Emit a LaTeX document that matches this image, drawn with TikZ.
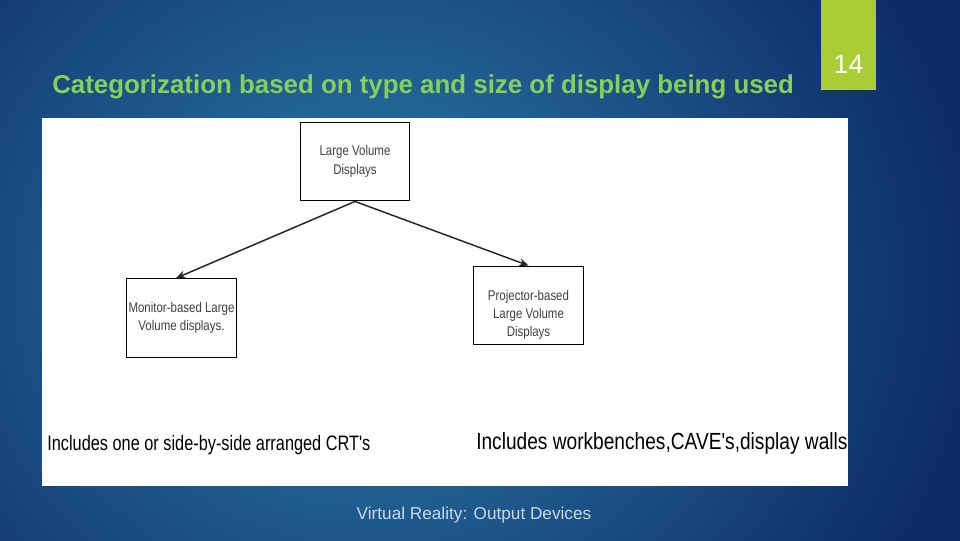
\documentclass[tikz,border=0pt]{standalone}
\usepackage{fontspec}
\setmainfont{Liberation Sans}
\newfontfamily\narrowfont[FakeStretch=0.82]{Liberation Sans}
\newfontfamily\crtfont[FakeStretch=0.78]{Liberation Sans}
\usetikzlibrary{arrows.meta}
\definecolor{bgdark}{HTML}{0C2A64}
\definecolor{bglight}{HTML}{2C7DAC}
\definecolor{titlegreen}{HTML}{86CF5C}
\definecolor{tabgreen}{HTML}{A9CD35}
\definecolor{footgrey}{HTML}{CCD8E4}
\tikzset{
  box/.style={draw=black, line width=0.9pt, fill=white, minimum width=82pt, minimum height=59pt, inner sep=0pt, align=center, font=\narrowfont\fontsize{10.5}{14}\selectfont, text=black!75},
  conn/.style={-{Stealth[length=7pt,width=6pt]}, line width=1.1pt, black!85},
  bottomtext/.style={anchor=west, inner sep=0pt}
}
\begin{document}
\begin{tikzpicture}[x=0.75pt,y=-0.75pt]
% background
\begin{scope}
\clip (-4,-4) rectangle (964,544);
\fill[bgdark] (-4,-4) rectangle (964,544);
\shade[inner color=bglight, outer color=bgdark] (370,280) ellipse (620 and 560);
\end{scope}
% title
\node[anchor=base west, inner sep=0pt, text=titlegreen, font=\bfseries\fontsize{19.4}{23}\selectfont] (title) at (52,93) {Categorization based on type and size of display being used};
% tab
\fill[tabgreen] (821,-4) rectangle (876,90);
\node[text=white, font=\fontsize{20}{24}\selectfont] (num) at (848.5,64) {14};
% white panel
\fill[white] (42,118) rectangle (848,486);
% boxes
\node[box] (top) at (355,161.5) {Large Volume\\Displays};
\node[box] (left) at (181.5,318) {Monitor-based Large\\Volume displays.};
\node[box, font=\narrowfont\fontsize{10.5}{13.5}\selectfont] (right) at (528.5,305.5) {\rule{0pt}{22pt}Projector-based\\Large Volume\\Displays};
\draw[conn] (top.south) -- ([xshift=-4pt]left.north);
\draw[conn] (top.south) -- (right.north);
% bottom texts
\node[bottomtext, font=\crtfont\fontsize{15.7}{18}\selectfont] (crt) at (47,445) {Includes one or side-by-side arranged CRT's};
\node[bottomtext, font=\narrowfont\fontsize{17.5}{20}\selectfont] (cave) at (476,443) {Includes workbenches,CAVE's,display walls};
% footer
\node[text=footgrey, font=\fontsize{12.9}{15}\selectfont] (foot) at (474,515) {Virtual Reality: Output Devices};
\pgfresetboundingbox
\useasboundingbox (0,0) rectangle (960,540);
\end{tikzpicture}
\end{document}
